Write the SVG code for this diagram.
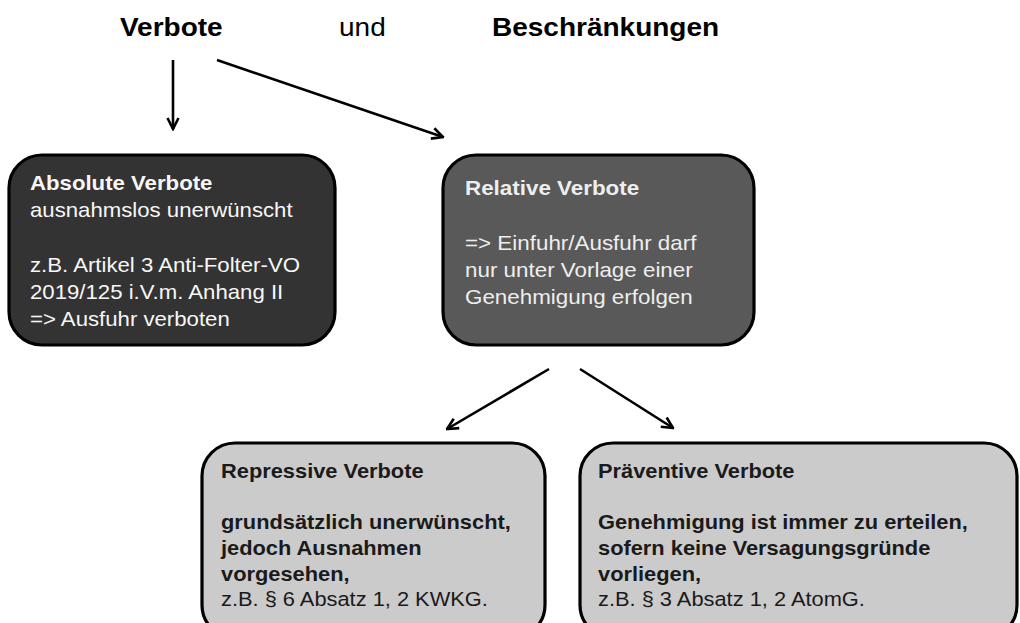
<svg xmlns="http://www.w3.org/2000/svg" width="1020" height="623" viewBox="0 0 1020 623">
<style>
text{font-family:"Liberation Sans",Arial,sans-serif}
.t{font-size:25px;fill:#000}
.b{font-weight:bold}
.n1{font-size:20px;fill:#f7f7f7}
.n2{font-size:20px;fill:#eeeeee}
.n3{font-size:19.5px;fill:#1a1a1a}
.box{stroke:#000;stroke-width:3.2}
.c{stroke:#000;stroke-width:2.6;fill:none}
</style>
<defs>
<marker id="ah" viewBox="0 0 14 14" refX="12.5" refY="7" markerWidth="14" markerHeight="14" markerUnits="userSpaceOnUse" orient="auto">
<path d="M1.5,1.5 L12.5,7 L1.5,12.5" fill="none" stroke="#000" stroke-width="2.6"/>
</marker>
</defs>
<rect width="1020" height="623" fill="#fff"/>
<g id="title">
<text class="t b" transform="translate(120,36) scale(1.12,1)">Verbote</text>
<text class="t" transform="translate(339,36) scale(1.12,1)">und</text>
<text class="t b" transform="translate(492,36) scale(1.12,1)">Beschränkungen</text>
</g>
<g id="connectors">
<line class="c" x1="173" y1="60" x2="173" y2="129" marker-end="url(#ah)"/>
<line class="c" x1="217" y1="60" x2="443" y2="137" marker-end="url(#ah)"/>
<line class="c" x1="549" y1="369" x2="447" y2="429" marker-end="url(#ah)"/>
<line class="c" x1="580" y1="369" x2="673" y2="428" marker-end="url(#ah)"/>
</g>
<g id="absolute">
<rect class="box" x="9" y="155" width="326" height="190" rx="33" fill="#333333"/>
<g transform="translate(30,0) scale(1.11,1)">
<text class="n1 b" y="190">Absolute Verbote</text>
<text class="n1" y="217">ausnahmslos unerwünscht</text>
<text class="n1" y="272">z.B. Artikel 3 Anti-Folter-VO</text>
<text class="n1" y="299">2019/125 i.V.m. Anhang II</text>
<text class="n1" y="326">=&gt; Ausfuhr verboten</text>
</g>
</g>
<g id="relative">
<rect class="box" x="443" y="155" width="311" height="190" rx="33" fill="#595959"/>
<g transform="translate(465,0) scale(1.12,1)">
<text class="n2 b" y="195">Relative Verbote</text>
<text class="n2" y="250">=&gt; Einfuhr/Ausfuhr darf</text>
<text class="n2" y="277">nur unter Vorlage einer</text>
<text class="n2" y="304">Genehmigung erfolgen</text>
</g>
</g>
<g id="repressive">
<rect class="box" x="202" y="443" width="343" height="195" rx="33" fill="#cbcbcb"/>
<g transform="translate(221,0) scale(1.12,1)">
<text class="n3 b" y="478">Repressive Verbote</text>
<text class="n3 b" y="529">grundsätzlich unerwünscht,</text>
<text class="n3 b" y="555">jedoch Ausnahmen</text>
<text class="n3 b" y="581">vorgesehen,</text>
<text class="n3" y="606">z.B. § 6 Absatz 1, 2 KWKG.</text>
</g>
</g>
<g id="praeventive">
<rect class="box" x="580" y="443" width="437" height="195" rx="33" fill="#cbcbcb"/>
<g transform="translate(598,0) scale(1.12,1)">
<text class="n3 b" y="478">Präventive Verbote</text>
<text class="n3 b" y="529">Genehmigung ist immer zu erteilen,</text>
<text class="n3 b" y="555">sofern keine Versagungsgründe</text>
<text class="n3 b" y="581">vorliegen,</text>
<text class="n3" y="606">z.B. § 3 Absatz 1, 2 AtomG.</text>
</g>
</g>
</svg>
